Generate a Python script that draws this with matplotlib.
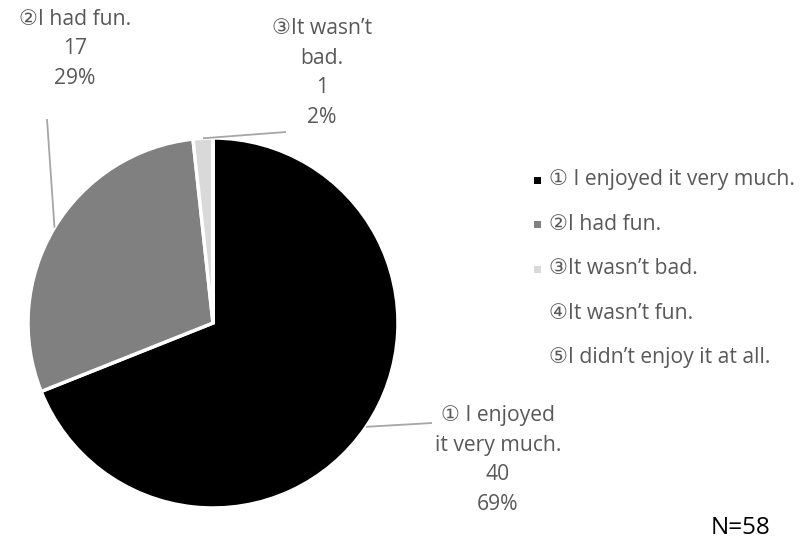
import numpy as np
import matplotlib
matplotlib.use("Agg")
import matplotlib.pyplot as plt
from matplotlib.patches import Rectangle

plt.rcParams['font.family'] = ['Open Sans', 'DejaVu Sans', 'Noto Sans CJK JP']

# Survey responses
categories = ["① I enjoyed it very much.", "②I had fun.", "③It wasn’t bad.",
              "④It wasn’t fun.", "⑤I didn’t enjoy it at all."]
label_names = ["① I enjoyed\nit very much.", "②I had fun.", "③It wasn’t\nbad.", "", ""]
counts = [40, 17, 1, 0, 0]
colors = ["#000000", "#808080", "#d9d9d9", "#ffffff", "#ffffff"]
total_n = 58

W, H = 803, 544
fig = plt.figure(figsize=(W / 100, H / 100), dpi=100)
ax = fig.add_axes([0, 0, 1, 1])

cx, cy, r = 213, H - 323, 185
wedges, _ = ax.pie(counts, colors=colors, startangle=90, counterclock=False,
                   center=(cx, cy), radius=r, frame=True,
                   wedgeprops=dict(edgecolor='white', linewidth=2.5))
ax.set_xlim(0, W)
ax.set_ylim(0, H)
ax.set_aspect('equal')
ax.axis('off')

txt_color = "#595959"
line_color = "#a6a6a6"
fs = 15.2

# data labels: (label centre x, label centre y) in pixel coords, leader line end
label_pos = {
    0: (498, 460, (432, 423)),
    1: (75, 49, (47, 119)),
    2: (322, 73, (286, 132)),
}
pct = [round(100 * c / sum(counts)) for c in counts]
for i, (lx, ly, lend) in label_pos.items():
    w = wedges[i]
    mid = np.deg2rad((w.theta1 + w.theta2) / 2)
    px, py = cx + r * np.cos(mid), cy + r * np.sin(mid)
    ax.plot([px, lend[0]], [py, H - lend[1]], color=line_color, lw=1.3,
            solid_capstyle='butt')
    text = f"{label_names[i]}\n{counts[i]}\n{pct[i]}%"
    ax.text(lx, H - ly, text, ha='center', va='center', fontsize=fs,
            color=txt_color, linespacing=1.54, multialignment='center')

# legend
leg_x, leg_y0, leg_dy = 549, 180, 44.5
for i, name in enumerate(categories):
    y = leg_y0 + i * leg_dy
    if counts[i] > 0:
        ax.add_patch(Rectangle((534, H - y - 3.5), 7, 7, facecolor=colors[i],
                               edgecolor='none'))
    ax.text(leg_x, H - y, name, ha='left', va='center', fontsize=fs,
            color=txt_color)

ax.text(741, H - 528, f"N={total_n}", ha='center', va='center', fontsize=17.5,
        color="#000000")

fig.savefig("out.png", dpi=100)
